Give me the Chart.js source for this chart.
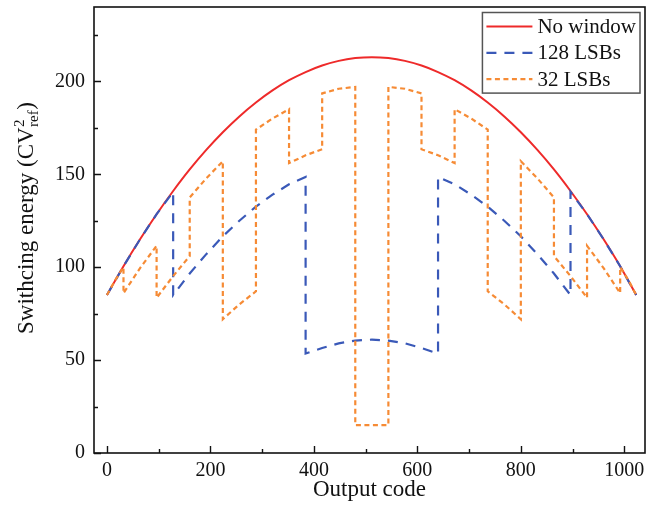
<!DOCTYPE html>
<html><head><meta charset="utf-8">
<script src="https://cdn.jsdelivr.net/npm/chart.js@4/dist/chart.umd.min.js"></script>
<style>html,body{margin:0;padding:0;background:#fff}#wrap{width:646px;height:514px;position:relative}</style>
</head><body><div id="wrap"><canvas id="c"></canvas></div>
<script>
// ---- data ----
const noWindowCodes  = [0,32,64,96,128,160,192,224,256,288,320,352,384,416,448,480,512,544,576,608,640,672,704,736,768,800,832,864,896,928,960,992,1023];
const noWindowEnergy = [85,100.5,115,128.5,141,152.6,163.1,172.6,181.1,188.6,195.1,200.6,205,208.5,211,212.5,213,212.5,211,208.5,205,200.6,195.1,188.6,181.1,172.6,163.1,152.6,141,128.5,115,100.5,85];

const lsb128Codes  = [0,32,64,96,128, 128,160,192,224,256,288,320,352,384, 384,416,448,480,512,544,576,608,640, 640,672,704,736,768,800,832,864,896, 896,928,960,992,1023];
const lsb128Energy = [85,100.5,115,128.5,140.5, 85,96.6,107,116.6,125,132.6,139,144.6,148.5, 53.5,56.5,59,60.5,61,60.5,59,56.5,53.5, 148.5,144.6,139,132.6,125,116.6,107,96.6,85, 140.5,128.5,115,100.5,85];

const lsb32Codes  = [0,16,32, 32,64,96, 96,128,160, 160,192,224, 224,256,288, 288,320,352, 352,384,416, 416,448,480, 480,512,544, 544,576,608, 608,640,672, 672,704,736, 736,768,800, 800,832,864, 864,896,928, 928,960,992, 992,1008,1023];
const lsb32Energy = [85,93,100, 86,99.5,111.5, 83.5,95.2,106, 137.5,147.8,157, 72,80,87, 174,180,185, 156,160.2,163.5, 193.5,196,197, 15,15,15, 197,196,193.5, 163.5,160.2,156, 185,180,174, 87,80,72, 157,147.8,137.5, 106,95.2,83.5, 111.5,99.5,86, 100,93,85];

const seriesLabels = ['No window', '128 LSBs', '32 LSBs'];
const xTickValues = [0,200,400,600,800,1000];
const xMinorValues = [100,300,500,700,900];
const yTickValues = [0,50,100,150,200];
const yMinorValues = [25,75,125,175,225];

const FONT = 'Liberation Serif';
const zip = (xs, ys) => xs.map((x, i) => ({x, y: ys[i]}));

const framePlugin = {
  id: 'frame',
  afterDraw(chart) {
    const {ctx, chartArea: a, scales: {x, y}} = chart;
    ctx.save();
    // border box
    ctx.strokeStyle = '#111';
    ctx.lineWidth = 1.6;
    ctx.strokeRect(a.left, a.top, a.right - a.left, a.bottom - a.top);
    // inward ticks
    ctx.lineWidth = 1.4;
    ctx.beginPath();
    xTickValues.forEach(v => { const p = Math.round(x.getPixelForValue(v)) + 0.5; ctx.moveTo(p, a.bottom); ctx.lineTo(p, a.bottom - 7); });
    xMinorValues.forEach(v => { const p = Math.round(x.getPixelForValue(v)) + 0.5; ctx.moveTo(p, a.bottom); ctx.lineTo(p, a.bottom - 4); });
    yTickValues.forEach(v => { const p = Math.round(y.getPixelForValue(v)) + 0.5; ctx.moveTo(a.left, p); ctx.lineTo(a.left + 7, p); });
    yMinorValues.forEach(v => { const p = Math.round(y.getPixelForValue(v)) + 0.5; ctx.moveTo(a.left, p); ctx.lineTo(a.left + 4, p); });
    ctx.stroke();

    // legend inside chart area, top-right
    const ds = chart.data.datasets;
    ctx.font = '21px "' + FONT + '"';
    const tw = Math.max(...ds.map(d => ctx.measureText(d.label).width));
    const lineLen = 46, padL = 4, gap = 5, padR = 4, rowH = 26.3, first = 14;
    const w = padL + lineLen + gap + tw + padR;
    const h = first * 2 + rowH * (ds.length - 1);
    const bx = a.right - 5 - w, by = a.top + 5.5;
    ctx.fillStyle = '#fff';
    ctx.fillRect(bx, by, w, h);
    ctx.strokeStyle = '#555';
    ctx.lineWidth = 1.5;
    ctx.setLineDash([]);
    ctx.strokeRect(bx, by, w, h);
    ds.forEach((d, i) => {
      const cy = by + first + i * rowH;
      ctx.strokeStyle = d.borderColor;
      ctx.lineWidth = d.borderWidth;
      ctx.setLineDash(d.borderDash || []);
      ctx.beginPath();
      ctx.moveTo(bx + padL, cy);
      ctx.lineTo(bx + padL + lineLen, cy);
      ctx.stroke();
      ctx.setLineDash([]);
      ctx.fillStyle = '#111';
      ctx.textBaseline = 'middle';
      ctx.textAlign = 'left';
      ctx.fillText(d.label, bx + padL + lineLen + gap, cy + 1);
    });

    // y-axis title with superscript / subscript
    const main = 'Swithcing energy (CV';
    const sup = '2', sub = 'ref', close = ')';
    ctx.font = '23px "' + FONT + '"';
    const wMain = ctx.measureText(main).width;
    const wClose = ctx.measureText(close).width;
    ctx.font = '15px "' + FONT + '"';
    const wScript = Math.max(ctx.measureText(sup).width, ctx.measureText(sub).width);
    const total = wMain + wScript + 1 + wClose;
    const centerY = 218, baseX = 33;
    ctx.translate(baseX, centerY + total / 2);
    ctx.rotate(-Math.PI / 2);
    ctx.fillStyle = '#111';
    ctx.textBaseline = 'alphabetic';
    ctx.textAlign = 'left';
    ctx.font = '23px "' + FONT + '"';
    ctx.fillText(main, 0, 0);
    ctx.font = '15px "' + FONT + '"';
    ctx.fillText(sup, wMain + 0.5, -9);
    ctx.fillText(sub, wMain + 0.5, 5);
    ctx.font = '23px "' + FONT + '"';
    ctx.fillText(close, wMain + wScript + 1, 0);
    ctx.restore();
  }
};

new Chart(document.getElementById('c'), {
  type: 'line',
  data: {
    datasets: [
      { label: seriesLabels[0], data: zip(noWindowCodes, noWindowEnergy), borderColor: '#ee2a2a', borderWidth: 2, pointRadius: 0, cubicInterpolationMode: 'monotone', order: 3 },
      { label: seriesLabels[1], data: zip(lsb128Codes, lsb128Energy), borderColor: '#3a59b8', borderWidth: 2.2, borderDash: [10, 8], pointRadius: 0, tension: 0, order: 2 },
      { label: seriesLabels[2], data: zip(lsb32Codes, lsb32Energy), borderColor: '#f68b35', borderWidth: 2.2, borderDash: [5, 3.5], pointRadius: 0, tension: 0, order: 1 }
    ]
  },
  options: {
    responsive: true,
    maintainAspectRatio: false,
    animation: false,
    events: [],
    layout: { padding: { top: 7, right: 1, left: 0, bottom: 0 } },
    plugins: { legend: { display: false }, tooltip: { enabled: false } },
    scales: {
      x: {
        type: 'linear', min: -25, max: 1040,
        afterBuildTicks: s => { s.ticks = xTickValues.map(v => ({ value: v })); },
        afterFit: s => { s.height = 61; s.paddingLeft = 0; s.paddingRight = 0; },
        grid: { display: false, drawTicks: false },
        border: { display: false },
        ticks: { font: { family: FONT, size: 20 }, color: '#111', padding: 6, maxRotation: 0, autoSkip: false, callback: v => String(v) },
        title: { display: true, text: 'Output code', font: { family: FONT, size: 23 }, color: '#111', padding: { top: 0, bottom: 10 } }
      },
      y: {
        type: 'linear', min: 0, max: 240,
        afterBuildTicks: s => { s.ticks = yTickValues.map(v => ({ value: v })); },
        afterFit: s => { s.width = 94; s.paddingTop = 0; s.paddingBottom = 0; },
        grid: { display: false, drawTicks: false },
        border: { display: false },
        ticks: { font: { family: FONT, size: 20 }, color: '#111', padding: 9, autoSkip: false, callback: v => String(v) },
        title: { display: false }
      }
    }
  },
  plugins: [framePlugin]
});
</script>
</body></html>
